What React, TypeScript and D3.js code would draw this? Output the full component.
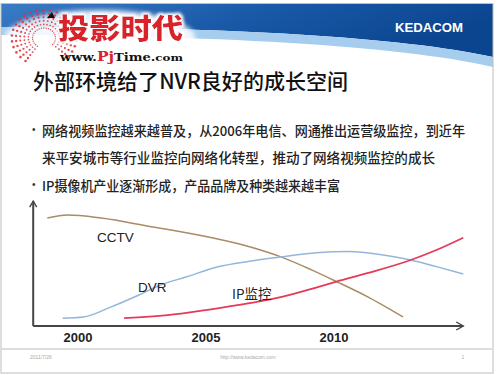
import { useEffect, useRef } from "react";
import * as d3 from "d3";

// values: [year, relative level 0-100]
const cctv: [number, number][] = [
  [1998.8, 90], [1999.6, 92.5], [2000.9, 90], [2002.8, 83], [2005, 74.5], [2006.7, 66],
  [2008, 57], [2009.1, 47], [2010.1, 37], [2011.3, 24.5], [2012.7, 7.5],
];
const dvr: [number, number][] = [
  [1999.4, 6.5], [2000.2, 7.5], [2001.25, 15.5], [2002.4, 26], [2003.2, 34], [2004.25, 41],
  [2005.4, 49], [2006.7, 54], [2008, 57.7], [2009.3, 61], [2010.6, 62], [2011.5, 60.5],
  [2013, 55], [2014, 49.5], [2015.05, 43.3],
];
const ipCam: [number, number][] = [
  [2001.8, 6.5], [2003.5, 9], [2005, 13.3], [2006.7, 19], [2008, 24.4], [2009.3, 32],
  [2010.1, 37], [2011.3, 44], [2013, 55], [2014, 63.3], [2015.05, 73.6],
];
const tickYears = [2000, 2005, 2010];
const seriesNames = ["CCTV", "DVR", "IP监控"];
const seriesColors = ["#a98b66", "#93b6da", "#e63a5a"];
const labelPos: [number, number][] = [[2000.74, 74], [2002.34, 32], [2006.02, 27.5]];

const title = "外部环境给了NVR良好的成长空间";
const bullets = [
  "网络视频监控越来越普及，从2006年电信、网通推出运营级监控，到近年",
  "来平安城市等行业监控向网络化转型，推动了网络视频监控的成长",
  "IP摄像机产业逐渐形成，产品品牌及种类越来越丰富",
];

const App = () => {
  const ref = useRef<HTMLDivElement>(null);

  useEffect(() => {
    const el = ref.current;
    if (!el) return;
    d3.select(el).selectAll("*").remove();
    const W = 500, H = 375;
    const cjk = "'Noto Sans CJK SC', 'Noto Sans', sans-serif";
    const latin = "'Liberation Sans', Arial, sans-serif";

    const svg = d3.select(el).append("svg")
      .attr("width", W).attr("height", H)
      .style("position", "absolute").style("left", "0").style("top", "0");
    const defs = svg.append("defs");
    const grad = defs.append("linearGradient").attr("id", "hdr").attr("x1", "0").attr("x2", "1").attr("y1", "0").attr("y2", "0.3");
    grad.append("stop").attr("offset", "0").attr("stop-color", "#3b7cc6");
    grad.append("stop").attr("offset", "0.5").attr("stop-color", "#1a5aa8");
    grad.append("stop").attr("offset", "1").attr("stop-color", "#0b4590");
    const glow = defs.append("filter").attr("id", "glow").attr("x", "-20%").attr("y", "-40%").attr("width", "140%").attr("height", "180%");
    glow.append("feGaussianBlur").attr("stdDeviation", 2.5);
    // white halo behind the logo text, kept in one element
    const halo = defs.append("filter").attr("id", "halo").attr("x", "-10%").attr("y", "-30%").attr("width", "120%").attr("height", "160%");
    halo.append("feMorphology").attr("in", "SourceAlpha").attr("operator", "dilate").attr("radius", 2).attr("result", "fat");
    halo.append("feGaussianBlur").attr("in", "fat").attr("stdDeviation", 1.5).attr("result", "soft");
    halo.append("feFlood").attr("flood-color", "#fff").attr("result", "white");
    halo.append("feComposite").attr("in", "white").attr("in2", "soft").attr("operator", "in").attr("result", "glowOut");
    const merge = halo.append("feMerge");
    merge.append("feMergeNode").attr("in", "glowOut");
    merge.append("feMergeNode").attr("in", "SourceGraphic");

    svg.append("rect").attr("width", W).attr("height", H).attr("fill", "#fff");

    // header band
    svg.append("path").attr("d", "M1,4 H493 V57 C400,36 200,26 1,27 Z").attr("fill", "url(#hdr)");
    svg.append("path").attr("d", "M1,27 C200,26 400,36 493,57 V67 C400,45 200,35 1,35 Z").attr("fill", "#a6cdee");
    svg.append("text").attr("x", 395).attr("y", 27).attr("dominant-baseline", "central")
      .attr("font-family", latin).attr("font-weight", "bold").attr("font-size", 13.5)
      .attr("textLength", 68).attr("lengthAdjust", "spacingAndGlyphs")
      .attr("fill", "#fff").text("KEDACOM");

    // watermark logo
    const logo = svg.append("g");
    logo.append("ellipse").attr("cx", 100).attr("cy", 38).attr("rx", 95).attr("ry", 28)
      .attr("fill", "#fff").attr("opacity", 0.85).attr("filter", "url(#glow)");
    const cx = 44, cy = 38;
    for (let a = 0; a < 24; a++) {
      const ang = (-55 + a * 12) * Math.PI / 180;
      for (let r = 0; r < 6; r++) {
        const rad = 10 + r * 3.6;
        logo.append("circle")
          .attr("cx", cx - Math.cos(ang) * rad * 1.15)
          .attr("cy", cy - Math.sin(ang) * rad)
          .attr("r", 0.7 + r * 0.12)
          .attr("fill", "#e2323c").attr("opacity", 0.9);
      }
    }
    logo.append("path").attr("d", "M47,18 L52,12 L55,18 Z").attr("fill", "#111");
    logo.append("text").attr("x", 58).attr("y", 39)
      .attr("font-family", cjk).attr("font-weight", 900).attr("font-size", 28)
      .attr("textLength", 125).attr("lengthAdjust", "spacingAndGlyphs")
      .attr("fill", "#d9222c").attr("filter", "url(#halo)").text("投影时代");
    const url = logo.append("text").attr("x", 60).attr("y", 61)
      .attr("font-family", "'DejaVu Serif', serif").attr("font-weight", "bold").attr("font-size", 11)
      .attr("textLength", 123).attr("lengthAdjust", "spacingAndGlyphs").attr("fill", "#111");
    url.append("tspan").text("www.");
    url.append("tspan").attr("fill", "#d9222c").attr("font-size", 13).text("Pj");
    url.append("tspan").text("Time.");
    url.append("tspan").attr("font-size", 10).text("com");

    // title and bullets
    svg.append("text").attr("x", 33).attr("y", 80).attr("dominant-baseline", "central")
      .attr("font-family", cjk).attr("font-weight", 500).attr("font-size", 21)
      .attr("textLength", 315).attr("lengthAdjust", "spacingAndGlyphs")
      .attr("fill", "#111").text(title);
    const lineY = [130, 157, 185];
    const lineW = [423, 393, 298];
    bullets.forEach((b, i) => {
      if (i !== 1) {
        svg.append("text").attr("x", 32).attr("y", lineY[i] - 1).attr("dominant-baseline", "central")
          .attr("font-family", latin).attr("font-size", 10).attr("fill", "#333").text("•");
      }
      svg.append("text").attr("x", 42).attr("y", lineY[i]).attr("dominant-baseline", "central")
        .attr("font-family", cjk).attr("font-weight", 500).attr("font-size", 13.5)
        .attr("textLength", lineW[i]).attr("lengthAdjust", "spacingAndGlyphs")
        .attr("fill", "#222").text(b);
    });

    // chart
    const x = d3.scaleLinear().domain([2000, 2010]).range([78, 334]);
    const y = d3.scaleLinear().domain([0, 100]).range([326, 206]);
    const line = d3.line<[number, number]>().x(d => x(d[0])).y(d => y(d[1])).curve(d3.curveMonotoneX);

    const axisColor = "#454545";
    const x0 = x(1998.25), x1 = x(2015.05), yTop = y(104);
    const ax = svg.append("g").attr("stroke", axisColor).attr("stroke-width", 2).attr("fill", "none");
    ax.append("path").attr("d", `M${x0},${y(0)} V${yTop}`);
    ax.append("path").attr("d", `M${x0 - 3.5},${yTop + 6} L${x0},${yTop} L${x0 + 3.5},${yTop + 6}`).attr("stroke-width", 1.4);
    ax.append("path").attr("d", `M${x0},${y(0)} H${x1}`);
    ax.append("path").attr("d", `M${x1 - 7},${y(0) - 4} L${x1},${y(0)} L${x1 - 7},${y(0) + 4}`).attr("stroke-width", 1.4);

    svg.append("g").selectAll("text").data(tickYears).enter().append("text")
      .attr("x", d => x(d)).attr("y", 337).attr("text-anchor", "middle").attr("dominant-baseline", "central")
      .attr("font-family", latin).attr("font-weight", "bold").attr("font-size", 13)
      .attr("fill", "#222").text(d => d);

    const all = [cctv, dvr, ipCam];
    svg.append("g").selectAll("path").data(all).enter().append("path")
      .attr("d", d => line(d))
      .attr("fill", "none")
      .attr("stroke", (d, i) => seriesColors[i])
      .attr("stroke-width", (d, i) => (i === 2 ? 1.8 : 1.5));

    svg.append("g").selectAll("text").data(seriesNames).enter().append("text")
      .attr("x", (d, i) => x(labelPos[i][0])).attr("y", (d, i) => y(labelPos[i][1]))
      .attr("dominant-baseline", "central")
      .attr("font-family", (d, i) => (i === 2 ? cjk : latin)).attr("font-size", 13.5)
      .attr("fill", "#222").text(d => d);

    // footer
    svg.append("line").attr("x1", 2).attr("x2", 492).attr("y1", 349).attr("y2", 349)
      .attr("stroke", "#d2d2d2").attr("stroke-width", 1.5);
    const foot = [["2011/7/26", 30, "start"], ["http://www.kedacom.com", 248, "middle"], ["1", 463, "middle"]];
    svg.append("g").selectAll("text").data(foot).enter().append("text")
      .attr("x", d => d[1] as number).attr("y", 357).attr("text-anchor", d => d[2] as string)
      .attr("dominant-baseline", "central").attr("font-family", latin).attr("font-size", 5)
      .attr("fill", "#aaa").text(d => d[0] as string);

    svg.append("rect").attr("x", 1).attr("y", 3.5).attr("width", 492).attr("height", 369.5)
      .attr("fill", "none").attr("stroke", "#bdbdbd").attr("stroke-width", 1);
  }, []);

  return <div ref={ref}></div>;
};

export default App;
